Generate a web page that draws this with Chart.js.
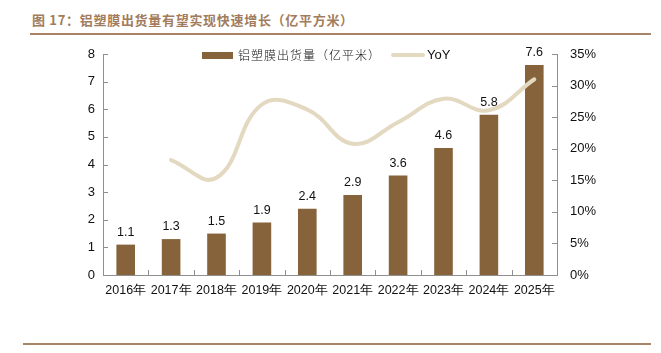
<!DOCTYPE html>
<html><head><meta charset="utf-8">
<script src="https://cdn.jsdelivr.net/npm/chart.js@4"></script>
<style>
html,body{margin:0;padding:0;background:#fff;width:661px;height:353px;overflow:hidden;position:relative;font-family:"Liberation Sans",Arial,sans-serif;}
#title{position:absolute;left:32px;top:11px;font-family:"Noto Sans CJK SC",sans-serif;font-weight:bold;font-size:13px;color:#a27c5c;white-space:nowrap;letter-spacing:0.7px;line-height:18px;}
#tline{position:absolute;left:30px;top:33px;width:621px;height:2px;background:#a88466;}
#bline{position:absolute;left:23px;top:343px;width:628px;height:2px;background:#a88466;}
#wrap{position:absolute;left:0;top:0;width:661px;height:353px;}
.lg{position:absolute;top:47px;font-size:12px;white-space:nowrap;line-height:16px;color:#111;}
</style></head><body>
<div id="title">图 17：铝塑膜出货量有望实现快速增长（亿平方米）</div>
<div id="tline"></div>
<div id="wrap"><canvas id="c" width="661" height="353"></canvas></div>
<div class="lg" style="left:202px;"><span style="display:inline-block;width:31px;height:7px;background:#86633a;vertical-align:middle;margin-right:5px;position:relative;top:-1px;"></span><span style="font-family:'Noto Sans CJK SC';font-weight:300;letter-spacing:1px;">铝塑膜出货量（亿平米）</span></div>
<div class="lg" style="left:391px;"><span style="display:inline-block;width:34px;height:4px;border-radius:2px;background:#e3d8c0;vertical-align:middle;margin-right:2px;position:relative;top:-1px;"></span><span style="font-family:'Liberation Sans';font-size:13px;">YoY</span></div>
<div id="bline"></div>
<script>
const categories = ["2016年","2017年","2018年","2019年","2020年","2021年","2022年","2023年","2024年","2025年"];
const shipments = [1.1, 1.3, 1.5, 1.9, 2.4, 2.9, 3.6, 4.6, 5.8, 7.6];
const yoy = [null, 18.2, 15.4, 27.0, 26.2, 20.8, 24.2, 27.9, 26.1, 31.0];
const leftTicks = [0,1,2,3,4,5,6,7,8];
const rightTicks = [0,5,10,15,20,25,30,35];

const BAR = '#86633a', LINE = '#e3d8c0', AXIS = '#8f8f8f';
const FONT = '"Liberation Sans", Arial, sans-serif';

const innerTicks = {
  id:'innerTicks',
  afterDatasetsDraw(chart){
    const ctx = chart.ctx, {x, y, y1} = chart.scales;
    ctx.save();
    ctx.strokeStyle = AXIS; ctx.lineWidth = 1;
    ctx.beginPath();
    y.ticks.forEach((t,i)=>{const p=Math.round(y.getPixelForTick(i))+0.5; ctx.moveTo(y.right,p); ctx.lineTo(y.right+5,p);});
    y1.ticks.forEach((t,i)=>{const p=Math.round(y1.getPixelForTick(i))+0.5; ctx.moveTo(y1.left-5,p); ctx.lineTo(y1.left,p);});
    for(let i=0;i<=categories.length;i++){const p=Math.round(x.getPixelForValue(i-0.5))+0.5; ctx.moveTo(p,x.top); ctx.lineTo(p,x.top-5);}
    ctx.stroke();
    ctx.fillStyle='#111'; ctx.font='12.5px ' + FONT;
    ctx.textAlign='center'; ctx.textBaseline='bottom';
    const meta = chart.getDatasetMeta(1);
    meta.data.forEach((el,i)=>{ctx.fillText(shipments[i].toFixed(1), el.x, el.y-6);});
    ctx.restore();
  }
};

new Chart(document.getElementById('c'), {
  data:{
    labels: categories,
    datasets:[
      {type:'line', label:'YoY', data:yoy, yAxisID:'y1', borderColor:LINE, borderWidth:4, tension:0.42,
       pointRadius:0, borderCapStyle:'round', spanGaps:false, order:0},
      {type:'bar', label:'铝塑膜出货量（亿平米）', data:shipments, yAxisID:'y', backgroundColor:BAR,
       barPercentage:0.41, categoryPercentage:1, order:1}
    ]
  },
  options:{
    responsive:false, animation:false, devicePixelRatio:1,
    layout:{padding:{top:54, left:0, right:0, bottom:0}},
    plugins:{legend:{display:false}, tooltip:{enabled:false}, title:{display:false}},
    scales:{
      x:{type:'category', offset:true,
         grid:{display:false, drawTicks:false},
         border:{color:AXIS},
         ticks:{color:'#111', font:{size:12.5, family:FONT}, padding:8, maxRotation:0, autoSkip:false},
         afterFit(s){s.height=78;}},
      y:{position:'left', min:0, max:8,
         grid:{display:false, drawTicks:false}, border:{color:AXIS},
         ticks:{stepSize:1, color:'#111', padding:8, font:{size:13, family:FONT}},
         afterBuildTicks(s){s.ticks = leftTicks.map(v=>({value:v}));},
         afterFit(s){s.width=103;}},
      y1:{position:'right', min:0, max:35,
         grid:{display:false, drawTicks:false}, border:{color:AXIS},
         ticks:{stepSize:5, color:'#111', padding:13, font:{size:13, family:FONT}, callback:v=>v+'%'},
         afterBuildTicks(s){s.ticks = rightTicks.map(v=>({value:v}));},
         afterFit(s){s.width=104;}}
    }
  },
  plugins:[innerTicks]
});
</script>
</body></html>
